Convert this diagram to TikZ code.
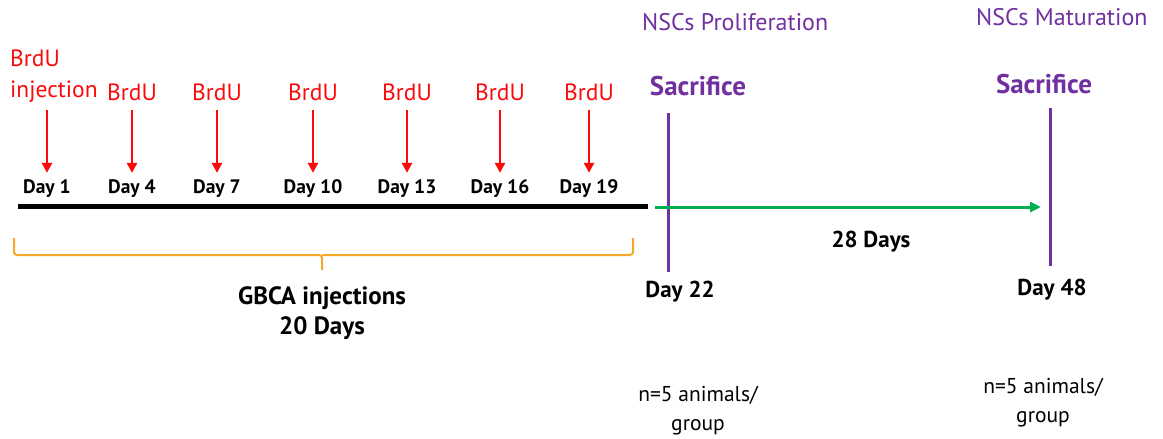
\documentclass[tikz,border=0pt]{standalone}
\usepackage{fontspec}
\setmainfont{PT Sans}
\usetikzlibrary{arrows.meta,positioning}
\definecolor{brdured}{RGB}{250,10,10}
\definecolor{nscpurple}{RGB}{112,48,160}
\definecolor{gbcaorange}{RGB}{246,168,40}
\definecolor{chasegreen}{RGB}{0,176,80}

\begin{document}
\begin{tikzpicture}[x=1pt, y=-1pt,
    brdu/.style={text=brdured, font=\fontsize{23.5}{31}\selectfont, inner sep=0pt},
    daylbl/.style={font=\bfseries\fontsize{19.5}{22}\selectfont, inner sep=0pt},
    bigday/.style={font=\bfseries\fontsize{23}{27}\selectfont, inner sep=0pt, align=center},
    sacr/.style={text=nscpurple, font=\bfseries\fontsize{27}{30}\selectfont, inner sep=0pt},
    phase/.style={text=nscpurple, font=\fontsize{24}{26}\selectfont, inner sep=0pt},
    grouplbl/.style={font=\fontsize{21.5}{29}\selectfont, inner sep=0pt, align=center},
    redarrow/.style={draw=brdured, line width=2.8pt, -{Triangle[length=10pt, width=10pt]}}]
    \useasboundingbox (0,0) rectangle (1163,439);

    % Linea de tiempo (inyecciones)
    \coordinate (tStart) at (18,206);
    \coordinate (tEnd) at (648,206);
    \draw[line width=5pt] (tStart) -- (tEnd);

    % Primera inyeccion de BrdU
    \node[brdu, align=left, anchor=north west] (b1) at (10,50) {BrdU\\injection};
    \node[daylbl] (d1) at (47,189) {Day 1};
    \draw[redarrow, shorten <=7pt, shorten >=7pt] (b1.south -| 47,0) -- (d1.north);

    % Resto de inyecciones de BrdU
    \foreach \x/\d/\n in {132/4/2, 217/7/3, 313/10/4, 407/13/5, 500/16/6, 589/19/7} {
        \node[brdu] (b\n) at (\x,92) {BrdU};
        \node[daylbl] (d\n) at (\x,189) {Day \d};
        \draw[redarrow, shorten <=9pt, shorten >=7pt] (b\n.south) -- (d\n.north);
    }

    % Llave de las inyecciones de GBCA
    \coordinate (brL) at (14,238);
    \coordinate (brR) at (633,238);
    \coordinate (brM) at (322,270);
    \draw[gbcaorange, line width=2pt, rounded corners=3pt]
        (brL) |- (brM |- 0,255) -- (brM) (brM |- 0,255) -| (brR);
    \node[bigday, font=\bfseries\fontsize{25}{30}\selectfont, below=16pt of brM] (gbca) {GBCA injections\\20 Days};

    % Sacrificios
    \node[phase, anchor=west] (nsc1) at (642,22) {NSCs Proliferation};
    \node[phase, anchor=west] (nsc2) at (976,17) {NSCs Maturation};
    \node[sacr] (sac1) at (698,86) {Sacrifice};
    \node[sacr] (sac2) at (1044,84) {Sacrifice};
    \coordinate (s1top) at (668,113);
    \coordinate (s1bot) at (668,272);
    \coordinate (s2top) at (1050,108);
    \coordinate (s2bot) at (1050,266);
    \draw[nscpurple, line width=3pt] (s1top) -- (s1bot);
    \draw[nscpurple, line width=3pt] (s2top) -- (s2bot);
    \node[bigday] (d22) at (680,292) {Day 22};
    \node[bigday] (d48) at (1052,290) {Day 48};

    % Flecha de 28 dias
    \coordinate (gStart) at (655,207);
    \coordinate (gEnd) at (1041,207);
    \draw[chasegreen, line width=3pt, -{Triangle[length=11pt, width=10pt]}] (gStart) -- (gEnd);
    \node[bigday] (chase) at (871,242) {28 Days};

    % Animales por grupo
    \node[grouplbl] (grp1) at (698,411) {n=5 animals/\\group};
    \node[grouplbl] (grp2) at (1043,403) {n=5 animals/\\group};
\end{tikzpicture}
\end{document}
